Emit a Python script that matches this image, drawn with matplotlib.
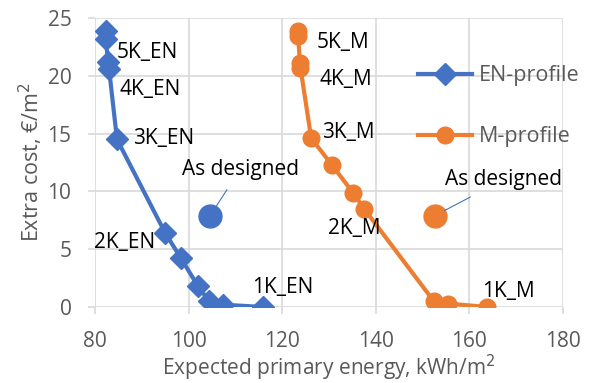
import matplotlib
matplotlib.use("Agg")
import matplotlib.pyplot as plt
from matplotlib.lines import Line2D

# ---- data ----
en_energy = [82.3, 82.3, 82.8, 83.0, 84.7, 95.0, 98.4, 102.0, 104.4, 107.4, 115.9]
en_cost = [23.9, 23.2, 21.2, 20.6, 14.5, 6.4, 4.2, 1.8, 0.5, 0.2, 0.0]
m_energy = [123.4, 123.4, 123.8, 123.9, 126.2, 130.6, 135.1, 137.5, 152.4, 155.4, 163.8]
m_cost = [23.9, 23.4, 21.1, 20.7, 14.6, 12.3, 9.9, 8.5, 0.5, 0.3, 0.0]
design_en = (104.6, 7.9)
design_m = (152.6, 7.9)

en_label_names = ["5K_EN", "4K_EN", "3K_EN", "2K_EN", "1K_EN"]
m_label_names = ["5K_M", "4K_M", "3K_M", "2K_M", "1K_M"]

x_ticks = [80, 100, 120, 140, 160, 180]
y_ticks = [0, 5, 10, 15, 20, 25]

# ---- layout (label anchor positions in data units) ----
en_label_pos = [(84.7, 22.0), (85.3, 18.8), (88.1, 14.6), (79.8, 5.6), (113.5, 1.65)]
m_label_pos = [(127.4, 22.9), (127.9, 19.7), (128.5, 15.1), (129.8, 6.8), (162.7, 1.3)]

BLUE = "#4472C4"
ORANGE = "#ED7D31"
GREY = "#595959"
GRID = "#D9D9D9"

plt.rcParams['font.family'] = ['Open Sans', 'DejaVu Sans']

fig = plt.figure(figsize=(5.93, 3.83), dpi=100)
ax = fig.add_axes([95/593, 1-307/383, (563-95)/593, (307-18)/383])

ax.plot(en_energy, en_cost, color=BLUE, lw=3, marker='D', ms=11, zorder=3)
ax.plot(m_energy, m_cost, color=ORANGE, lw=3, marker='o', ms=12, zorder=3)
ax.plot([design_en[0]], [design_en[1]], 'o', color=BLUE, ms=16.5, zorder=3)
ax.plot([design_m[0]], [design_m[1]], 'o', color=ORANGE, ms=16.5, zorder=3)

fs = 15
for name, (x, y) in zip(en_label_names, en_label_pos):
    ax.text(x, y, name, fontsize=fs, ha='left', va='center', color='black')
for name, (x, y) in zip(m_label_names, m_label_pos):
    ax.text(x, y, name, fontsize=fs, ha='left', va='center', color='black')

ax.annotate("As designed", xy=design_en, xytext=(111.0, 11.9), fontsize=fs,
            ha='center', va='center', color='black',
            arrowprops=dict(arrowstyle='-', color=BLUE, lw=0.8, shrinkA=6, shrinkB=8))
ax.annotate("As designed", xy=design_m, xytext=(167.2, 11.0), fontsize=fs,
            ha='center', va='center', color='black',
            arrowprops=dict(arrowstyle='-', color=BLUE, lw=0.8, shrinkA=6, shrinkB=8))

ax.set_xlim(80, 180)
ax.set_ylim(0, 25)
ax.set_xticks(x_ticks)
ax.set_yticks(y_ticks)
ax.grid(True, color=GRID, lw=1.2)
ax.set_axisbelow(True)
for s in ax.spines.values():
    s.set_visible(False)
ax.tick_params(axis='both', colors=GRID, labelcolor=GREY, labelsize=15, length=5, width=1.2)
ax.tick_params(axis='x', pad=12)
ax.tick_params(axis='y', pad=12)
ax.set_xlabel("Expected primary energy, kWh/m$^2$", fontsize=15, color=GREY, labelpad=0.5)
ax.set_ylabel("Extra cost, €/m$^2$", fontsize=15.5, color=GREY, labelpad=2)

handles = [Line2D([], [], color=BLUE, lw=3, marker='D', ms=11),
           Line2D([], [], color=ORANGE, lw=3, marker='o', ms=12)]
leg = fig.legend(handles, ["EN-profile", "M-profile"], loc='upper left',
                 bbox_to_anchor=(412/593, 1-59/383), frameon=False, fontsize=15.5,
                 labelcolor=GREY, handlelength=2.5, handletextpad=0.3, labelspacing=1.85,
                 borderaxespad=0, borderpad=0.3)

fig.savefig("out.png", dpi=100)
